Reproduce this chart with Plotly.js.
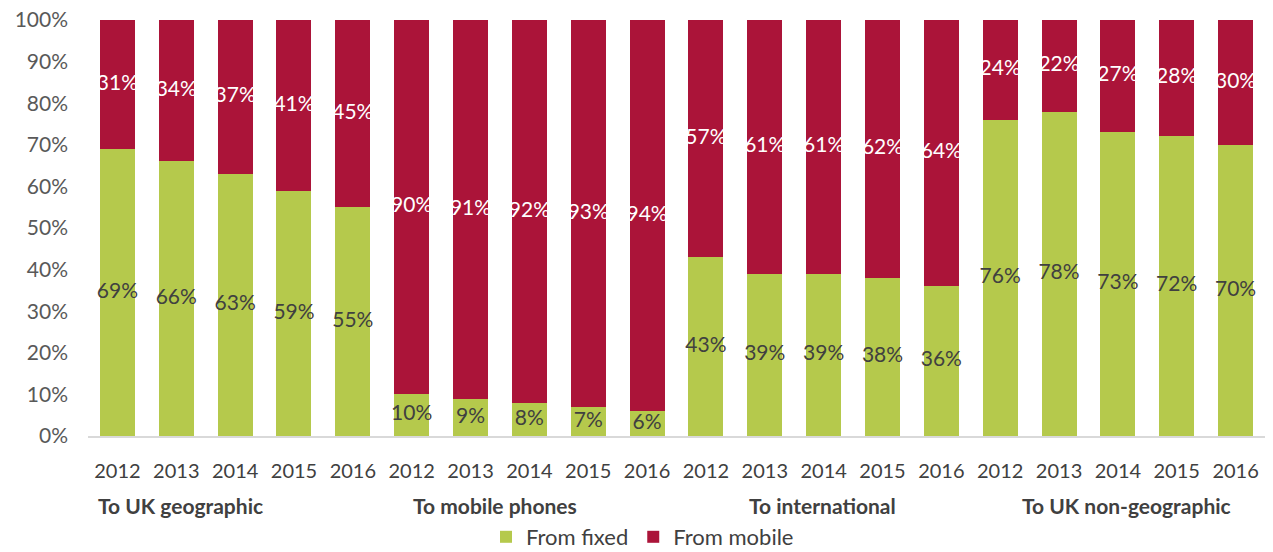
<!DOCTYPE html>
<html>
<head>
<meta charset="utf-8">
<script src="https://cdn.plot.ly/plotly-3.0.1.min.js"></script>
<style>html,body{margin:0;padding:0;background:#fff;}#chart{width:1273px;height:552px;}</style>
</head>
<body>
<div id="chart"></div>
<script>
const years = ["2012","2013","2014","2015","2016"];
const groups = ["To UK geographic","To mobile phones","To international","To UK non-geographic"];
const fromFixed = [69,66,63,59,55, 10,9,8,7,6, 43,39,39,38,36, 76,78,73,72,70];
const fromMobile = [31,34,37,41,45, 90,91,92,93,94, 57,61,61,62,64, 24,22,27,28,30];
const yTicks = [0,10,20,30,40,50,60,70,80,90,100];

const FONT = "Lato, 'Open Sans', sans-serif";
const xs = fromFixed.map((_, i) => i);
const tickText = xs.map(i => years[i % years.length]);

const traces = [
  {type:'bar', name:'From fixed', x: xs, y: fromFixed, marker:{color:'#B5C94C'}, hoverinfo:'none'},
  {type:'bar', name:'From mobile', x: xs, y: fromMobile, marker:{color:'#AB1439'}, hoverinfo:'none'},
  {type:'scatter', mode:'text', x: xs, y: fromFixed.map(v => v/2), text: fromFixed.map(v => v + '%'),
   textfont:{family:FONT, size:21, color:'#404040'}, showlegend:false, hoverinfo:'none'},
  {type:'scatter', mode:'text', x: xs, y: fromFixed.map((v, i) => v + fromMobile[i]/2), text: fromMobile.map(v => v + '%'),
   textfont:{family:FONT, size:21, color:'#FFFFFF'}, showlegend:false, hoverinfo:'none'}
];

const groupLeft = [96, 411, 747, 1020];
const annotations = groups.map((g, k) => ({
  text: '<b>' + g + '</b>', xref:'paper', yref:'paper',
  x: (groupLeft[k] - 88) / 1177, y: (436 - 505) / 416, xanchor:'left', yanchor:'middle',
  showarrow:false, font:{family:FONT, size:21, color:'#404040'}
}));

const layout = {
  width:1273, height:552,
  margin:{l:88, r:8, t:20, b:116},
  paper_bgcolor:'#fff', plot_bgcolor:'#fff',
  barmode:'stack', bargap:0.405,
  font:{family:FONT, size:20, color:'#595959'},
  xaxis:{range:[-0.5, 19.5], tickvals: xs, ticktext: tickText, showgrid:false, zeroline:false,
         showline:true, linecolor:'#D9D9D9', linewidth:1.5, ticks:'', ticklen:0, ticklabelstandoff:16,
         tickfont:{family:FONT, size:20, color:'#404040'}, fixedrange:true},
  yaxis:{range:[0, 100], tickvals: yTicks, ticktext: yTicks.map(v => v + '%'), showgrid:false,
         zeroline:false, showline:false, ticks:'', ticklabelstandoff:19,
         tickfont:{family:FONT, size:21, color:'#595959'}, fixedrange:true},
  showlegend:true,
  legend:{orientation:'h', xref:'container', yref:'container', x:486/1273, xanchor:'left',
          y:(552 - 537) / 552, yanchor:'middle',
          font:{family:FONT, size:22, color:'#404040'}, traceorder:'normal'},
  annotations: annotations
};

Plotly.newPlot('chart', traces, layout, {staticPlot:true, displayModeBar:false});
</script>
</body>
</html>
